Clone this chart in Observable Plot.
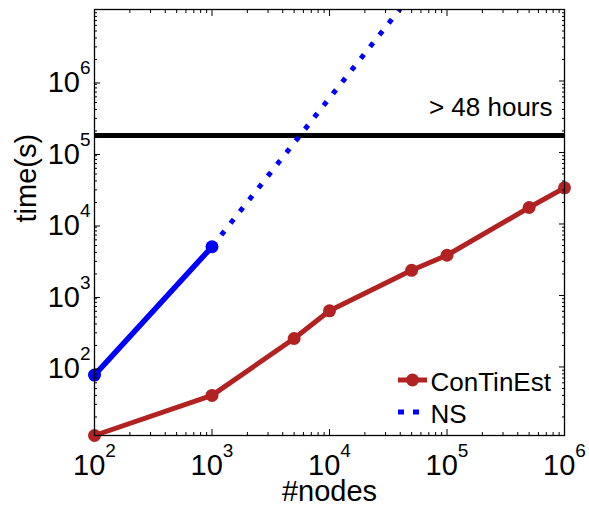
<!DOCTYPE html>
<html><head><meta charset="utf-8">
<script src="https://cdn.jsdelivr.net/npm/d3@7"></script>
<script src="https://cdn.jsdelivr.net/npm/@observablehq/plot@0.6"></script>
<style>
body{margin:0;background:#fff}
#chart{position:relative;width:589px;height:506px}
</style>
</head><body><div id="chart"></div>
<script>
// ---- data ----
const nodes = [1e2, 1e3, 5e3, 1e4, 5e4, 1e5, 5e5, 1e6];
const contTime = [11, 40, 250, 610, 2250, 3650, 17000, 32000];
const nsNodes = [1e2, 1e3];
const nsTime = [77, 4800];
const nsProjNodes = [1e3, 1e6];
const nsProjTime = [4800, 8.3e9];
const limitSeconds = 48 * 3600;
const limitLabel = "> 48 hours";
const seriesNames = ["ConTinEst", "NS"];
const xMajor = [1e2, 1e3, 1e4, 1e5, 1e6];
const yMajor = [1e2, 1e3, 1e4, 1e5, 1e6];
const xLabel = "#nodes";
const yLabel = "time(s)";

const minorTicks = (lo, hi) => {
  const out = [];
  for (let k = lo; k < hi; k++) for (let m = 2; m <= 9; m++) out.push(m * Math.pow(10, k));
  return out;
};
const xMinor = minorTicks(2, 6);
const yMinor = minorTicks(1, 7).filter(v => v > 11);

const cont = nodes.map((x, i) => ({x, y: contTime[i]}));
const ns = nsNodes.map((x, i) => ({x, y: nsTime[i]}));
const nsProj = nsProjNodes.map((x, i) => ({x, y: nsProjTime[i]}));

const RED = "#B22222", BLUE = "#0000FF";
const font = "'Liberation Sans', Arial, Helvetica, sans-serif";
const fmt = d => "10^" + Math.round(Math.log10(d));
const none = () => "";

const W = 589, H = 506, mL = 94, mR = 25, mT = 9, mB = 71;

const plot = Plot.plot({
  width: W, height: H,
  marginLeft: mL, marginRight: mR, marginTop: mT, marginBottom: mB,
  style: {fontFamily: font, background: "white", color: "black", overflow: "visible"},
  x: {type: "log", domain: [1e2, 1e6]},
  y: {type: "log", domain: [11, 1e7]},
  marks: [
    Plot.ruleY([limitSeconds], {stroke: "black", strokeWidth: 5}),
    Plot.text([limitLabel], {x: 1e6, y: limitSeconds, text: d => d, textAnchor: "end", lineAnchor: "bottom", dx: -12, dy: -20, fontSize: 26, fill: "black"}),
    Plot.line(nsProj, {x: "x", y: "y", stroke: BLUE, strokeWidth: 5, strokeDasharray: "5,10", strokeLinecap: "butt", clip: true}),
    Plot.line(ns, {x: "x", y: "y", stroke: BLUE, strokeWidth: 5.5}),
    Plot.dot(ns, {x: "x", y: "y", r: 6.5, fill: BLUE}),
    Plot.line(cont, {x: "x", y: "y", stroke: RED, strokeWidth: 5}),
    Plot.dot(cont, {x: "x", y: "y", r: 6.5, fill: RED}),
    // axes (inward ticks)
    Plot.axisX(xMajor, {anchor: "bottom", tickSize: -6, tickPadding: 25, tickFormat: fmt, fontSize: 29, label: null}),
    Plot.axisX(xMinor, {anchor: "bottom", tickSize: -3, tickFormat: none, label: null}),
    Plot.axisX(xMajor, {anchor: "top", tickSize: -6, tickFormat: none, label: null}),
    Plot.axisX(xMinor, {anchor: "top", tickSize: -3, tickFormat: none, label: null}),
    Plot.axisY(yMajor, {anchor: "left", tickSize: -6, tickPadding: 10, tickFormat: fmt, fontSize: 29, dy: 2, label: null}),
    Plot.axisY(yMinor, {anchor: "left", tickSize: -3, tickFormat: none, label: null}),
    Plot.axisY(yMajor, {anchor: "right", tickSize: -6, tickFormat: none, label: null}),
    Plot.axisY(yMinor, {anchor: "right", tickSize: -3, tickFormat: none, label: null}),
    Plot.text([xLabel], {frameAnchor: "bottom", text: d => d, lineAnchor: "bottom", dy: 65, fontSize: 29, fill: "black"}),
    Plot.text([yLabel], {frameAnchor: "left", text: d => d, rotate: -90, lineAnchor: "bottom", dx: -59, fontSize: 29, fill: "black"}),
    Plot.frame({stroke: "black", strokeWidth: 1.3}),
    // legend labels
    Plot.text([seriesNames[0]], {frameAnchor: "bottom-right", text: d => d, textAnchor: "start", lineAnchor: "bottom", dx: -134, dy: -45, fontSize: 26, fill: "black"}),
    Plot.text([seriesNames[1]], {frameAnchor: "bottom-right", text: d => d, textAnchor: "start", lineAnchor: "bottom", dx: -134, dy: -13, fontSize: 26, fill: "black"})
  ]
});

// superscript exponents in tick labels
d3.select(plot).selectAll('g[aria-label="x-axis tick label"] text, g[aria-label="y-axis tick label"] text').each(function () {
  const s = this.textContent;
  if (!s.includes("^")) return;
  const [base, exp] = s.split("^");
  const t = d3.select(this);
  t.text(null);
  t.append("tspan").text(base);
  t.append("tspan").attr("dy", -18).attr("font-size", 19).text(exp);
});

// legend swatches
const svg = d3.select(plot);
const lx = W - mR - 166, lx2 = W - mR - 137;
const ly1 = H - mB - 55, ly2 = H - mB - 23;
const lg = svg.append("g").attr("aria-label", "legend");
lg.append("line").attr("x1", lx).attr("x2", lx2).attr("y1", ly1).attr("y2", ly1)
  .attr("stroke", RED).attr("stroke-width", 5);
lg.append("circle").attr("cx", (lx + lx2) / 2).attr("cy", ly1).attr("r", 6.5).attr("fill", RED);
lg.append("line").attr("x1", lx).attr("x2", lx2).attr("y1", ly2).attr("y2", ly2)
  .attr("stroke", BLUE).attr("stroke-width", 5).attr("stroke-dasharray", "6,9");

document.getElementById("chart").appendChild(plot);
</script>
</body></html>
